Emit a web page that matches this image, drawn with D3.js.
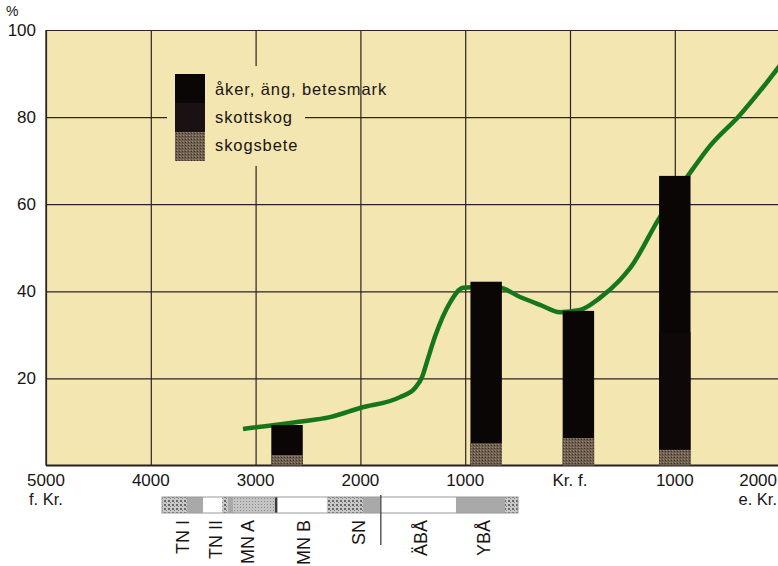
<!DOCTYPE html>
<html>
<head>
<meta charset="utf-8">
<script src="https://cdn.jsdelivr.net/npm/d3@7"></script>
<style>
  body { margin: 0; background: #fff; }
  text { font-family: "Liberation Sans", Arial, sans-serif; fill: #1a1414; }
</style>
</head>
<body>
<svg width="778" height="566"></svg>
<script>
// data
var barYears   = [-2700, -800, 80, 1000];
var skogsbete  = [2.4, 5.1, 6.3, 3.6];
var skottskog  = [0, 0, 0, 27];
var aker       = [6.9, 37.1, 29.2, 35.9];

var lineYears  = [-3120, -2605, -2290, -2004, -1622, -1479, -1412, -1365, -1288, -1145, -1021, -859, -668, -477, -286, -95, 95, 286, 477, 573, 859, 1145, 1336, 1622, 1985, 2100];
var lineVals   = [8.4, 10.0, 11.1, 13.2, 15.7, 17.8, 20.3, 23.8, 29.6, 37.4, 40.8, 41.0, 40.8, 38.7, 36.9, 35.2, 35.7, 38.5, 42.6, 45.3, 57.1, 67.2, 73.4, 80.5, 91.3, 95];

var xTicks      = [-5000, -4000, -3000, -2000, -1000, 0, 1000, 2000];
var xTickLabels = ["5000", "4000", "3000", "2000", "1000", "Kr. f.", "1000", "2000"];
var yTicks      = [20, 40, 60, 80, 100];

var legendLabels = ["åker, äng, betesmark", "skottskog", "skogsbete"];

// period strip (years)
var periodStart = [-3893, -3655, -3500, -3320, -3263, -3215, -2815, -2790, -2320, -1975, -1794, -1088, -620];
var periodEnd   = [-3655, -3500, -3320, -3263, -3215, -2815, -2790, -2320, -1975, -1813, -1088, -620, -496];
var periodKind  = ["tex", "gray", "white", "tex", "gray", "dots", "dark", "white", "tex", "gray", "white", "gray", "tex"];
var periodNames = ["TN I", "TN II", "MN A", "MN B", "SN", "ÄBÅ", "YBÅ"];
var periodMid   = [-3702, -3387, -3082, -2548, -2023, -1431, -830];

var svg = d3.select("svg");
var x = d3.scaleLinear().domain([-5000, 2000]).range([46, 779.6]);
var y = d3.scaleLinear().domain([0, 100]).range([465.5, 30]);
var bg = "#f3e6b0";
var barW = x(150) - x(-150);

var defs = svg.append("defs");
var pt = defs.append("pattern").attr("id", "tex").attr("width", 4).attr("height", 4)
  .attr("patternUnits", "userSpaceOnUse");
pt.append("rect").attr("width", 4).attr("height", 4).attr("fill", "#c9c9c9");
pt.append("rect").attr("width", 2).attr("height", 2).attr("fill", "#6a6a6a");
pt.append("rect").attr("x", 2).attr("y", 2).attr("width", 1).attr("height", 1).attr("fill", "#8a8a8a");
var pd = defs.append("pattern").attr("id", "dots").attr("width", 3).attr("height", 3)
  .attr("patternUnits", "userSpaceOnUse");
pd.append("rect").attr("width", 3).attr("height", 3).attr("fill", "#c4c4c4");
pd.append("rect").attr("width", 1).attr("height", 1).attr("fill", "#8c8c8c");
var ps = defs.append("pattern").attr("id", "sb").attr("width", 3).attr("height", 3)
  .attr("patternUnits", "userSpaceOnUse");
ps.append("rect").attr("width", 3).attr("height", 3).attr("fill", "#6f6050");
ps.append("rect").attr("width", 1).attr("height", 1).attr("fill", "#9a8a78");
ps.append("rect").attr("x", 2).attr("y", 1).attr("width", 1).attr("height", 1).attr("fill", "#3e3228");

// plot background
svg.append("rect").attr("x", x(-5000)).attr("y", y(100))
  .attr("width", 800).attr("height", y(0) - y(100)).attr("fill", bg);

// grid
svg.append("g").attr("transform", "translate(0," + y(0) + ")")
  .call(d3.axisBottom(x).tickValues(xTicks).tickSize(-(y(0) - y(100))).tickFormat(""))
  .call(function(g) {
    g.select(".domain").remove();
    g.selectAll("line").attr("stroke", "#2e2222").attr("stroke-width", 1.2);
  });
svg.append("g").attr("transform", "translate(" + x(-5000) + ",0)")
  .call(d3.axisLeft(y).tickValues(yTicks).tickSize(-800).tickFormat(""))
  .call(function(g) {
    g.select(".domain").remove();
    g.selectAll("line").attr("stroke", "#2e2222").attr("stroke-width", 1.2);
  });
svg.append("line").attr("x1", x(-5000)).attr("x2", 778).attr("y1", y(0)).attr("y2", y(0))
  .attr("stroke", "#2a1e1e").attr("stroke-width", 2);
svg.append("line").attr("x1", x(-5000)).attr("x2", x(-5000)).attr("y1", y(100)).attr("y2", y(0))
  .attr("stroke", "#2a1e1e").attr("stroke-width", 1.3);

// legend patch covers grid
svg.append("rect").attr("x", 167).attr("y", 66).attr("width", 138).attr("height", 100).attr("fill", bg);
var legColors = ["#0b0606", "#1a1212", "url(#sb)"];
legendLabels.forEach(function(l, i) {
  svg.append("rect").attr("x", 175).attr("y", 74 + i * 29).attr("width", 30).attr("height", 29)
    .attr("fill", legColors[i]);
  svg.append("text").attr("x", 215).attr("y", 95 + i * 28).attr("font-size", 16.5)
    .attr("letter-spacing", 0.9).text(l);
});

// green line
var line = d3.line().x(function(d) { return x(d[0]); }).y(function(d) { return y(d[1]); })
  .curve(d3.curveMonotoneX);
svg.append("path").datum(d3.zip(lineYears, lineVals))
  .attr("d", line).attr("fill", "none").attr("stroke", "#15761c").attr("stroke-width", 4.5);

// bars
var stack = barYears.map(function(yr, i) {
  return { yr: yr, sb: skogsbete[i], sk: skottskog[i], ak: aker[i] };
});
var bars = svg.append("g").selectAll("g").data(stack).enter().append("g");
bars.append("rect").attr("x", function(d) { return x(d.yr) - barW / 2; })
  .attr("width", barW)
  .attr("y", function(d) { return y(d.sb + d.sk + d.ak); })
  .attr("height", function(d) { return y(0) - y(d.sb + d.sk + d.ak); })
  .attr("fill", "#0b0606");
bars.append("rect").attr("x", function(d) { return x(d.yr) - barW / 2; })
  .attr("width", barW)
  .attr("y", function(d) { return y(d.sb + d.sk); })
  .attr("height", function(d) { return y(d.sb) - y(d.sb + d.sk); })
  .attr("fill", "#0e0808");
bars.append("rect").attr("x", function(d) { return x(d.yr) - barW / 2; })
  .attr("width", barW)
  .attr("y", function(d) { return y(d.sb); })
  .attr("height", function(d) { return y(0) - y(d.sb); })
  .attr("fill", "url(#sb)");

// axis labels
svg.append("text").attr("x", 6).attr("y", 16).attr("font-size", 14).text("%");
yTicks.forEach(function(v) {
  svg.append("text").attr("x", 36).attr("y", y(v) + 6).attr("text-anchor", "end")
    .attr("font-size", 17).text(v);
});
xTicks.forEach(function(v, i) {
  var last = i === xTicks.length - 1;
  svg.append("text").attr("x", last ? 777 : x(v)).attr("y", 486)
    .attr("text-anchor", last ? "end" : "middle").attr("font-size", 17).text(xTickLabels[i]);
});
svg.append("text").attr("x", x(-5000)).attr("y", 505).attr("text-anchor", "middle")
  .attr("font-size", 16.5).text("f. Kr.");
svg.append("text").attr("x", 777).attr("y", 505).attr("text-anchor", "end")
  .attr("font-size", 16.5).text("e. Kr.");

// period strip
var fills = { tex: "url(#tex)", gray: "#a9a9a9", white: "#ffffff", dots: "url(#dots)", dark: "#3a3a3a" };
var strip = svg.append("g");
periodStart.forEach(function(s, i) {
  strip.append("rect").attr("x", x(s)).attr("y", 497)
    .attr("width", x(periodEnd[i]) - x(s)).attr("height", 16)
    .attr("fill", fills[periodKind[i]]);
});
strip.append("rect").attr("x", x(periodStart[0])).attr("y", 497)
  .attr("width", x(-496) - x(periodStart[0])).attr("height", 16)
  .attr("fill", "none").attr("stroke", "#9a9a9a").attr("stroke-width", 1);
strip.append("line").attr("x1", x(-1805)).attr("x2", x(-1805)).attr("y1", 495).attr("y2", 545)
  .attr("stroke", "#333").attr("stroke-width", 1.2);
periodNames.forEach(function(n, i) {
  svg.append("text").attr("transform", "translate(" + (x(periodMid[i]) + 7) + ",520) rotate(-90)")
    .attr("text-anchor", "end").attr("font-size", 18).text(n);
});
</script>
</body>
</html>
